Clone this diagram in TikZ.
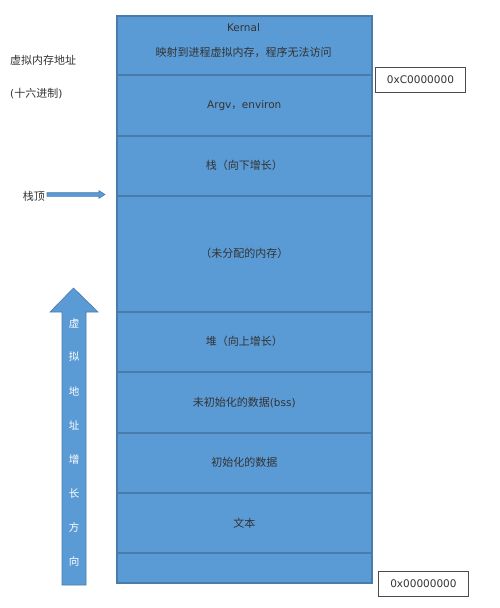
\documentclass[tikz,border=0pt]{standalone}
\usepackage{fontspec}
\setmainfont{DejaVu Sans}
\newfontfamily\cjk{Noto Sans CJK SC}
\usetikzlibrary{arrows.meta}
\definecolor{segfill}{HTML}{5B9BD5}
\definecolor{segline}{HTML}{4A7CAB}
\definecolor{txt}{HTML}{333333}
\begin{document}
\begin{tikzpicture}[x=1pt,y=-1pt,
  seg/.style={draw=segline, line width=1.6pt, fill=segfill, anchor=north west,
    minimum width=255pt, inner sep=0pt, text=txt, font=\fontsize{10.5}{12}\selectfont},
  lbl/.style={text=txt, inner sep=0pt, font=\fontsize{10.5}{12}\selectfont},
  addr/.style={draw=black!70, line width=0.9pt, fill=white, anchor=north west,
    inner sep=0pt, minimum width=90pt, minimum height=25pt, text=txt,
    font=\fontsize{10.5}{12}\selectfont},
  vchar/.style={text=white, inner sep=0pt, font=\cjk\fontsize{10.5}{12}\selectfont}]
\useasboundingbox (0,0) rectangle (500,608);
\fill[white] (0,0) rectangle (500,608);
% memory segments
\node[seg, minimum height=59pt] (kern) at (116,15) {};
\node[lbl] (kerntxt) at (243.5,28) {Kernal};
\node[lbl] (kernsub) at (243.5,52) {\cjk\fontsize{11}{12}\selectfont 映射到进程虚拟内存，程序无法访问};
\node[seg, minimum height=61pt] (argv) at (116,74) {Argv{\cjk ，}environ};
\node[seg, minimum height=60pt] (stack) at (116,135) {\cjk\fontsize{11}{12}\selectfont 栈（向下增长）};
\node[seg, minimum height=116pt] (free) at (116,195) {\cjk\fontsize{11}{12}\selectfont （未分配的内存）};
\node[seg, minimum height=60pt] (heap) at (116,311) {\cjk\fontsize{11}{12}\selectfont 堆（向上增长）};
\node[seg, minimum height=61pt] (bss) at (116,371) {{\cjk\fontsize{11}{12}\selectfont 未初始化的数据}(bss)};
\node[seg, minimum height=60pt] (data) at (116,432) {\cjk\fontsize{11}{12}\selectfont 初始化的数据};
\node[seg, minimum height=60pt] (text) at (116,492) {\cjk\fontsize{11}{12}\selectfont 文本};
\node[seg, minimum height=30pt] (bottom) at (116,552) {};
% addresses
\node[addr] (hi) at (375,67) {0xC0000000};
\node[addr] (lo) at (378,571) {0x00000000};
% left labels
\node[lbl, anchor=west] (vaddr) at (10,60) {\cjk\fontsize{11}{12}\selectfont 虚拟内存地址};
\node[lbl, anchor=west] (hex) at (10,94) {({\cjk\fontsize{11}{12}\selectfont 十六进制})};
\node[lbl, anchor=east] (sp) at (45,196) {\cjk\fontsize{11}{12}\selectfont 栈顶};
% stack top arrow
\filldraw[fill=segfill, draw=segline, line width=0.6pt]
  (47,194.5) ++(0,-1.8) -- ++(52,0) -- ++(0,-2) -- ++(6,3.8) -- ++(-6,3.8) -- ++(0,-2) -- ++(-52,0) -- cycle;
% growth direction arrow
\filldraw[fill=segfill, draw=segline, line width=0.6pt]
  (62,585) -- (62,312) -- (50,312) -- (73.5,288) -- (98,312) -- (86,312) -- (86,585) -- cycle;
\node[vchar] (c1) at (74,324) {虚};
\node[vchar] (c2) at (74,357) {拟};
\node[vchar] (c3) at (74,391) {地};
\node[vchar] (c4) at (74,425) {址};
\node[vchar] (c5) at (74,459) {增};
\node[vchar] (c6) at (74,493) {长};
\node[vchar] (c7) at (74,527) {方};
\node[vchar] (c8) at (74,561) {向};
\end{tikzpicture}
\end{document}
